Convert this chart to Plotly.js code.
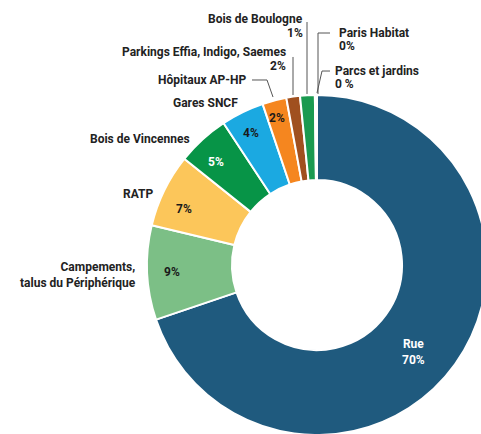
<!DOCTYPE html>
<html>
<head>
<meta charset="utf-8">
<script src="https://cdn.plot.ly/plotly-3.0.1.min.js"></script>
<style>
html,body{margin:0;padding:0;overflow:hidden;background:#fff;width:481px;height:434px;}
#chart{width:500px;height:440px;}
</style>
</head>
<body>
<div id="chart"></div>
<script>
// Data
const categories = ["Rue", "Campements, talus du Périphérique", "RATP", "Bois de Vincennes", "Gares SNCF",
  "Hôpitaux AP-HP", "Parkings Effia, Indigo, Saemes", "Bois de Boulogne", "Paris Habitat", "Parcs et jardins"];
const values = [70, 9, 7, 5, 4.1, 2.3, 1.3, 1.4, 0.1, 0.1];
const percentLabels = ["70%", "9%", "7%", "5%", "4%", "2%", "2%", "1%", "0%", "0 %"];
const colors = ["#1f5a7e", "#7cbf86", "#fcc65a", "#079447", "#1ba9e1", "#f5861f", "#a0501f", "#1a9a50", "#2e7d4f", "#3a9a5a"];

const W = 500, H = 440;
const px = x => x / W;
const py = y => 1 - y / H;

const trace = {
  type: "pie",
  labels: categories,
  values: values,
  sort: false,
  direction: "clockwise",
  rotation: 0,
  hole: 0.5,
  marker: {colors: colors, line: {color: "#ffffff", width: 2}},
  textinfo: "none",
  hoverinfo: "label+percent",
  domain: {x: [px(147), px(487)], y: [py(435), py(95)]}
};

const font = {family: "Roboto, sans-serif", size: 12, color: "#222222", weight: 700};
function ann(text, x, y, anchor, color) {
  return {text: text, x: px(x), y: py(y), xref: "paper", yref: "paper", showarrow: false,
    xanchor: anchor, yanchor: "middle", align: anchor,
    font: Object.assign({}, font, color ? {color: color} : {})};
}
const annotations = [
  // outside names
  ann(categories[7], 305, 19, "right"),
  ann(percentLabels[7], 305, 33, "right"),
  ann(categories[8], 337, 33, "left"),
  ann(percentLabels[8], 337, 46, "left"),
  ann(categories[9], 333, 71, "left"),
  ann(percentLabels[9], 333, 84, "left"),
  ann(categories[6], 288, 52, "right"),
  ann(percentLabels[6], 288, 66, "right"),
  ann(categories[5], 248, 80, "right"),
  ann(categories[4], 240, 103, "right"),
  ann(categories[3], 192, 139, "right"),
  ann(categories[2], 155, 194, "right"),
  ann("Campements,<br>talus du Périphérique", 138, 275, "right"),
  // in-slice labels
  ann(categories[0] + "<br>" + percentLabels[0], 413, 352, "center", "#ffffff"),
  ann(percentLabels[1], 172, 272, "center", "#1a1a1a"),
  ann(percentLabels[2], 184, 209, "center", "#1a1a1a"),
  ann(percentLabels[3], 216, 162, "center", "#ffffff"),
  ann(percentLabels[4], 251, 133, "center", "#1a1a1a"),
  ann(percentLabels[5], 277, 118, "center", "#1a1a1a")
];

function path(pts) {
  return pts.map((p, i) => (i ? "L" : "M") + px(p[0]).toFixed(4) + "," + py(p[1]).toFixed(4)).join(" ");
}
const lineStyle = {color: "#555555", width: 1};
const shapes = [
  [[307, 22], [307, 94]],
  [[330, 33], [318, 33], [318, 94]],
  [[330, 71], [322, 71], [317, 93]],
  [[293, 57], [293, 95]],
  [[252, 80], [267, 80], [273, 97]]
].map(p => ({type: "path", xref: "paper", yref: "paper", path: path(p), line: lineStyle}));

const layout = {
  width: W, height: H,
  margin: {l: 0, r: 0, t: 0, b: 0},
  paper_bgcolor: "#ffffff",
  showlegend: false,
  annotations: annotations,
  shapes: shapes,
  font: {family: "Roboto, sans-serif"}
};

Plotly.newPlot("chart", [trace], layout, {displayModeBar: false, staticPlot: true});
</script>
</body>
</html>
